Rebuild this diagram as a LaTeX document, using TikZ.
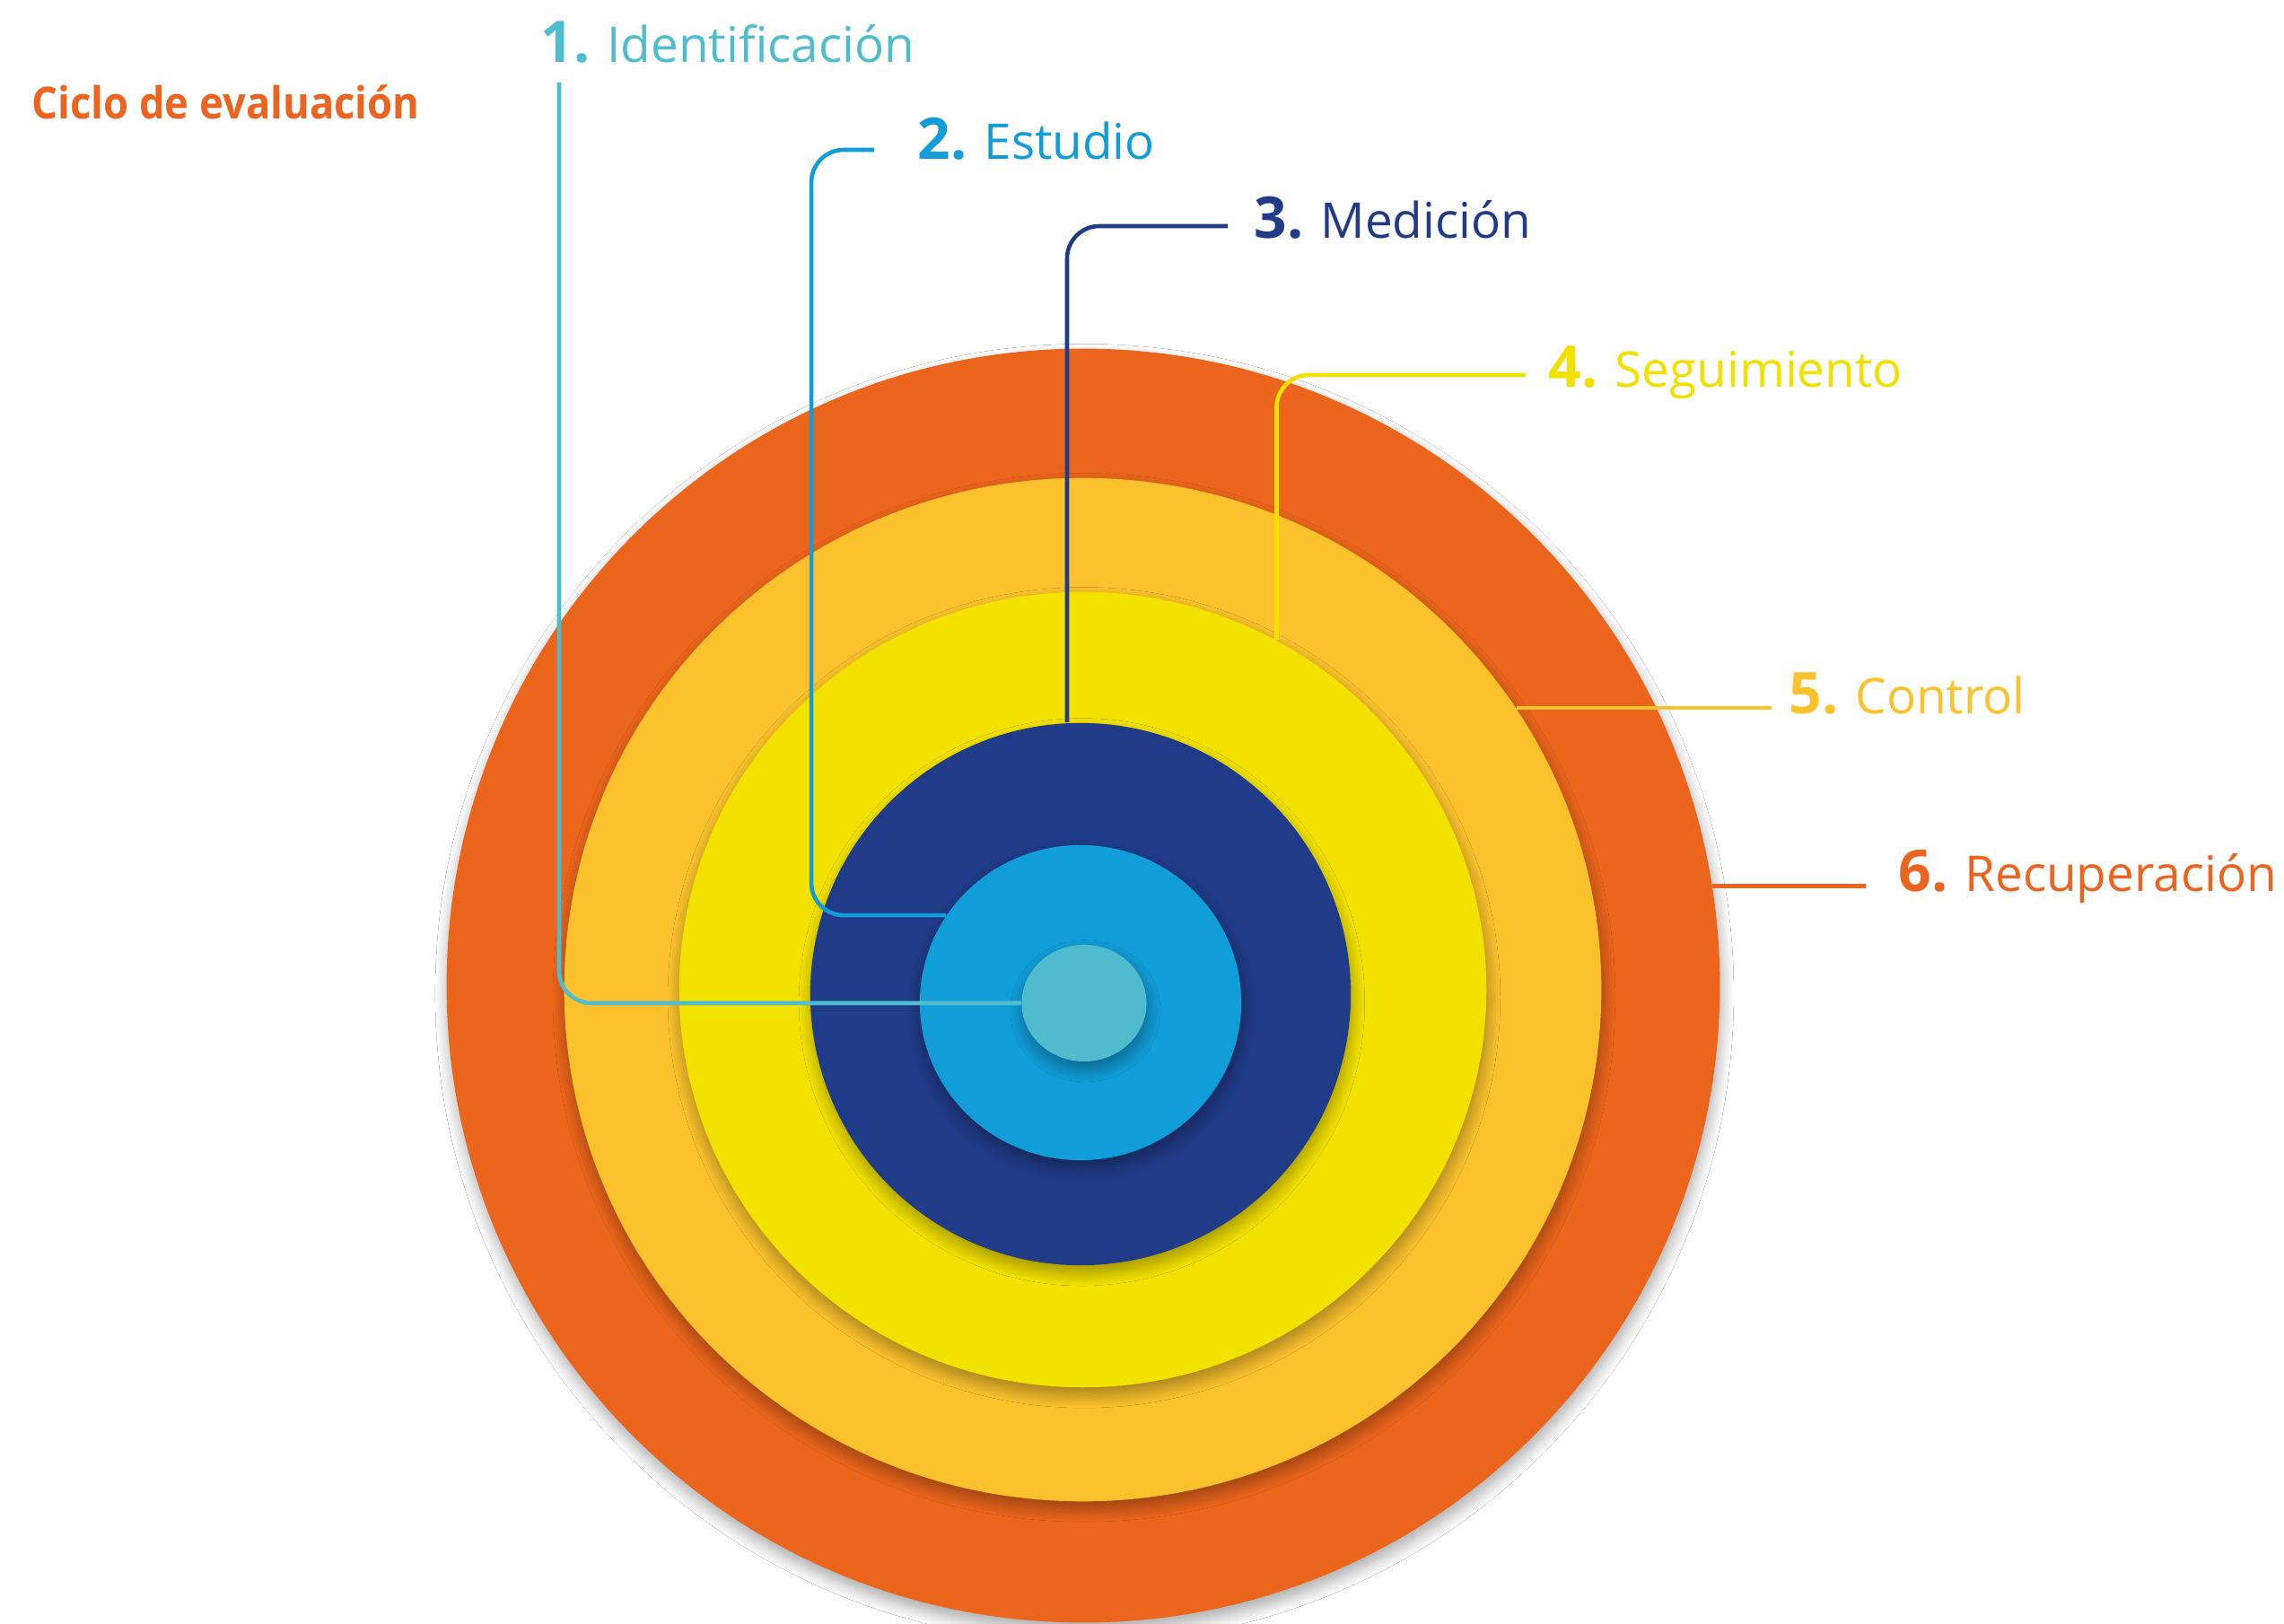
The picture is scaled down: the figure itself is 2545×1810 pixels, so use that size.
\documentclass[tikz,border=0pt]{standalone}
\usepackage{fontspec}
\setmainfont{Open Sans}
\newfontfamily\titlefont[FakeStretch=0.92]{Open Sans}
\usetikzlibrary{shapes.geometric,shadows.blur,calc}
\definecolor{cOrange}{HTML}{EB651C}
\definecolor{cLOrange}{HTML}{FBC22D}
\definecolor{cYellow}{HTML}{F3E200}
\definecolor{cDBlue}{HTML}{203B88}
\definecolor{cMBlue}{HTML}{119DD8}
\definecolor{cTeal}{HTML}{4FBCCE}
\definecolor{tTeal}{HTML}{4FBDCE}
\definecolor{tMBlue}{HTML}{129DD9}
\definecolor{tDBlue}{HTML}{213B87}
\definecolor{tYellow}{HTML}{F2E000}
\definecolor{tLOrange}{HTML}{FBC22E}
\definecolor{tOrange}{HTML}{EB6420}
\newcommand\numlab[1]{{\fontsize{18.2}{20}\selectfont\bfseries #1}}
\begin{document}
\begin{tikzpicture}[x=0.01cm,y=-0.01cm,
  disc/.style={ellipse, inner sep=0pt, draw=none,
    blur shadow={shadow xshift=0.4pt, shadow yshift=-2.5pt, shadow blur radius=4pt,
      shadow blur steps=16, shadow opacity=35}},
  conn/.style={line width=1.3pt, rounded corners=0.36cm},
  lab/.style={anchor=base west, inner sep=0pt, font=\fontsize{15.6}{18}\selectfont}]
\useasboundingbox[fill=white] (0,0) rectangle (2545,1810);

% concentric discs
\node[disc, fill=cOrange, minimum width=14.18cm, minimum height=14.19cm] (orange) at (1207,1098.5) {};
\node[disc, fill=cLOrange, minimum width=11.55cm, minimum height=11.40cm] (lorange) at (1206.5,1103) {};
\node[disc, fill=cYellow, minimum width=8.99cm, minimum height=8.86cm] (yellow) at (1206.5,1103) {};
\node[disc, fill=cDBlue, minimum width=6.02cm, minimum height=6.04cm] (dblue) at (1204,1108) {};
\node[disc, fill=cMBlue, minimum width=3.58cm, minimum height=3.51cm] (mblue) at (1204,1117.5) {};
\node[disc, fill=cTeal, minimum width=1.39cm, minimum height=1.30cm] (teal) at (1208,1118) {};

% title
\node[anchor=base west, inner sep=0pt, text=tOrange, font=\titlefont\fontsize{14}{16}\selectfont\bfseries] (title) at (35,133) {Ciclo de evaluación};

% labels
\node[lab, text=tTeal] (lab1) at (602,70) {\numlab{1.} Identificación};
\node[lab, text=tMBlue] (lab2) at (1022,178) {\numlab{2.} Estudio};
\node[lab, text=tDBlue] (lab3) at (1397,266) {\numlab{3.} Medición};
\node[lab, text=tYellow] (lab4) at (1725,432) {\numlab{4.} Seguimiento};
\node[lab, text=tLOrange] (lab5) at (1993,796) {\numlab{5.} Control};
\node[lab, text=tOrange] (lab6) at (2115,994) {\numlab{6.} Recuperación};

% free ends of connectors
\coordinate (p1) at (623,92);
\coordinate (p2) at (974,167);
\coordinate (p3) at (1368,252);
\coordinate (p4) at (1700,418);
\coordinate (p5) at (1974,783);
\coordinate (p6) at (2079,983);
\coordinate (e2) at (mblue.147.5);
\coordinate (e3) at ($(dblue.north)+(-15,0)$);
\coordinate (e4) at (yellow.61.6);
\coordinate (e5) at (lorange.33.8);
\coordinate (e6) at (orange.9.4);

% connectors
\draw[conn, tTeal] (p1) |- (teal.west);
\draw[conn, tMBlue] (p2) -| ($(e2)+(-150,0)$) -- (e2);
\draw[conn, tDBlue] (p3) -| (e3);
\draw[conn, tYellow] (p4) -| (e4);
\draw[conn, tLOrange] (e5) -- (e5 -| p5);
\draw[conn, tOrange] (e6) -- (e6 -| p6);
\end{tikzpicture}
\end{document}
